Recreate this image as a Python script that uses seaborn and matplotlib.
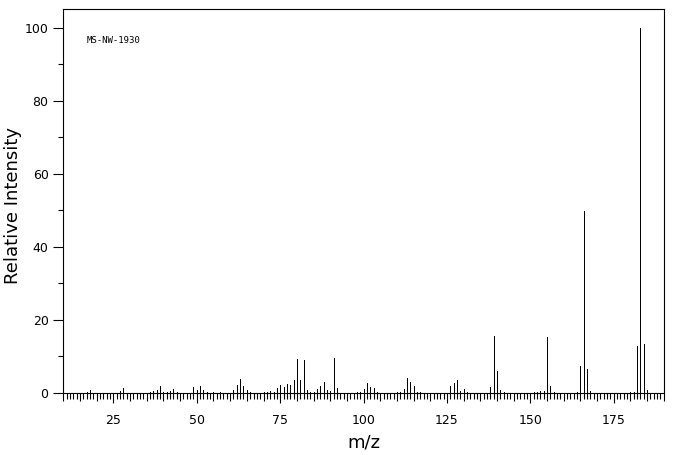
import numpy as np
import pandas as pd
import matplotlib
matplotlib.use('Agg')
import matplotlib.pyplot as plt
import matplotlib.ticker as ticker
import seaborn as sns

# peak list (m/z, relative intensity)
mz = [17, 18, 27, 28, 36, 37, 38, 39, 40, 41, 42, 43, 44,
      49, 50, 51, 52, 53, 55, 57, 61, 62, 63, 64, 65, 66,
      70, 71, 72, 73, 74, 75, 76, 77, 78, 79, 80, 81, 82, 83, 84,
      85, 86, 87, 88, 89, 90, 91, 92, 98, 99, 100, 101, 102, 103, 104,
      110, 111, 112, 113, 114, 115, 116, 117, 126, 127, 128, 129, 130, 131,
      138, 139, 140, 141, 142, 151, 152, 153, 154, 155, 156, 157,
      164, 165, 166, 167, 168, 180, 181, 182, 183, 184, 185]
intensity = [0.3, 0.7, 0.5, 1.4, 0.3, 0.5, 0.7, 1.9, 0.3, 0.3, 0.5, 1.1, 0.3,
             1.6, 0.7, 1.8, 0.7, 0.3, 0.3, 0.3, 0.7, 2.1, 3.7, 1.8, 0.7, 0.3,
             0.3, 0.3, 0.5, 0.3, 1.3, 2.1, 1.6, 2.4, 2.1, 3.5, 9.4, 3.5, 9.1, 0.7, 0.3,
             0.3, 1.2, 1.8, 2.9, 0.9, 0.5, 9.7, 1.3, 0.3, 0.3, 1.1, 2.7, 1.6, 1.3, 0.3,
             0.3, 0.3, 1.1, 4.1, 3.0, 1.9, 0.3, 0.3, 1.9, 2.7, 3.5, 0.5, 1.1, 0.3,
             1.6, 15.6, 6.0, 0.7, 0.3, 0.2, 0.3, 0.5, 0.5, 15.3, 1.8, 0.3,
             0.3, 7.4, 49.7, 6.5, 0.5, 0.3, 0.3, 12.8, 100, 13.3, 0.7]
sample_id = 'MS-NW-1930'

df = pd.DataFrame({'mz': mz, 'intensity': intensity})

sns.set_theme(style='ticks', rc={
    'axes.edgecolor': 'black', 'axes.linewidth': 0.8,
    'xtick.color': 'black', 'ytick.color': 'black',
    'text.color': 'black', 'axes.labelcolor': 'black',
    'xtick.major.width': 0.8, 'ytick.major.width': 0.8,
    'xtick.minor.width': 0.8, 'ytick.minor.width': 0.8,
})
plt.rcParams['font.family'] = ['DejaVu Sans']

fig = plt.figure(figsize=(6.76, 4.55), dpi=100)
ax = fig.add_axes([0.0938, 0.1187, 0.888, 0.861])

ax.vlines(df['mz'], 0, df['intensity'], color='black', linewidth=0.72,
          antialiased=False)

ax.set_xlim(10, 190)
ax.set_ylim(-2.2, 105)
ax.spines['bottom'].set_position(('data', 0))
ax.spines['left'].set_bounds(0, 105)
ax.spines['right'].set_bounds(0, 105)

ax.xaxis.set_major_locator(ticker.MultipleLocator(5))
ax.xaxis.set_minor_locator(ticker.MultipleLocator(1))
ax.xaxis.set_major_formatter(ticker.FuncFormatter(
    lambda v, p: f'{int(round(v))}' if int(round(v)) % 25 == 0 else ''))
ax.yaxis.set_major_locator(ticker.MultipleLocator(20))
ax.yaxis.set_minor_locator(ticker.MultipleLocator(10))

ax.tick_params(axis='x', which='major', length=6, direction='out', labelsize=9, pad=9)
ax.tick_params(axis='x', which='minor', length=4.3, direction='out')
ax.tick_params(axis='y', which='major', length=7.2, direction='out', labelsize=9, pad=3.5)
ax.tick_params(axis='y', which='minor', length=3.6, direction='out')

# longer ticks at every 25
locs = ax.xaxis.get_majorticklocs()
for loc, t in zip(locs, ax.xaxis.get_major_ticks(len(locs))):
    if int(round(loc)) % 25 == 0:
        t.tick1line.set_markersize(7.2)

ax.set_xlabel('m/z', fontsize=13, labelpad=5)
ax.set_ylabel('Relative Intensity', fontsize=13, labelpad=2)

ax.text(0.039, 0.919, sample_id, transform=ax.transAxes, fontsize=6.5,
        family='DejaVu Sans Mono', va='center', ha='left')

fig.savefig('out.png', dpi=100, facecolor='white')
